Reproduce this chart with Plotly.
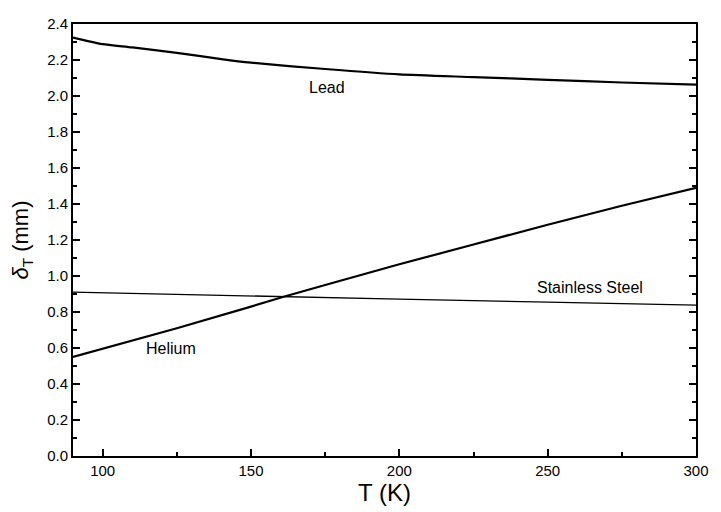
import plotly.graph_objects as go

T_lead = [90, 95, 100, 110, 125, 140, 150, 175, 200, 225, 250, 275, 300]
lead = [2.325, 2.305, 2.288, 2.27, 2.24, 2.205, 2.185, 2.15, 2.12, 2.105, 2.09, 2.075, 2.063]

T_he = [90, 100, 125, 150, 161, 175, 200, 225, 250, 275, 300]
helium = [0.55, 0.595, 0.71, 0.83, 0.885, 0.95, 1.065, 1.175, 1.285, 1.39, 1.49]

T_ss = [90, 125, 161, 200, 250, 300]
steel = [0.91, 0.897, 0.887, 0.872, 0.855, 0.838]

labels = ["Lead", "Helium", "Stainless Steel"]
label_x = [175.6, 123, 264.3]
label_y = [2.05, 0.60, 0.936]

fig = go.Figure()
fig.add_trace(go.Scatter(x=T_lead, y=lead, mode="lines", line=dict(color="black", width=2.2, shape="spline", smoothing=0.6), showlegend=False))
fig.add_trace(go.Scatter(x=T_he, y=helium, mode="lines", line=dict(color="black", width=2.2), showlegend=False))
fig.add_trace(go.Scatter(x=T_ss, y=steel, mode="lines", line=dict(color="black", width=1.3), showlegend=False))

for t, x, y in zip(labels, label_x, label_y):
    fig.add_annotation(x=x, y=y, text=t, showarrow=False,
                       font=dict(family="Liberation Sans, Arial", size=16, color="black"))

fig.update_layout(
    width=721, height=512,
    margin=dict(l=73, r=13, t=24, b=47),
    paper_bgcolor="white", plot_bgcolor="white",
    font=dict(family="Liberation Sans, Arial", color="black", size=14),
)
fig.update_xaxes(
    range=[90, 300], tickvals=[100, 150, 200, 250, 300],
    ticks="inside", ticklen=7, tickwidth=1.5, tickcolor="black",
    minor=dict(tickvals=[125, 175, 225, 275], ticks="inside", ticklen=4, tickcolor="black"),
    showline=True, linecolor="black", linewidth=2, mirror=True,
    showgrid=False, zeroline=False,
    tickfont=dict(size=15),
    title=dict(text="T (K)", font=dict(size=24), standoff=4),
)
fig.update_yaxes(
    range=[0, 2.4], tickvals=[i * 0.2 for i in range(13)],
    ticktext=[f"{i*0.2:.1f}" for i in range(13)],
    ticks="inside", ticklen=7, tickwidth=1.5, tickcolor="black",
    minor=dict(dtick=0.1, ticks="inside", ticklen=4, tickcolor="black"),
    showline=True, linecolor="black", linewidth=2, mirror="ticks",
    showgrid=False, zeroline=False,
    tickfont=dict(size=15),
    title=dict(text="<i>δ</i><sub>T</sub> (mm)", font=dict(size=22), standoff=12),
)

fig.write_html("out.html")
